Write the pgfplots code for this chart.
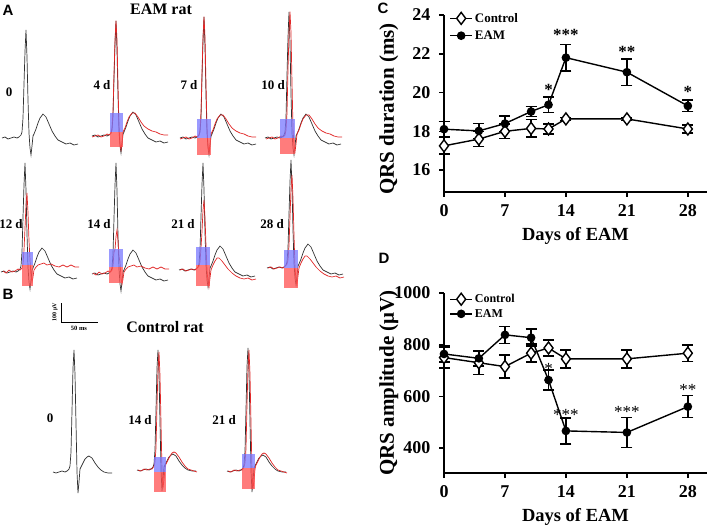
\documentclass[border=0pt]{standalone}
\usepackage{fontspec}
\setmainfont{Liberation Serif}
\newfontfamily\arialbf[BoldFont={Liberation Sans Bold}]{Liberation Sans}
\usepackage{pgfplots}
\pgfplotsset{compat=1.18}
\usepackage{pgfplotstable}

\definecolor{ecgblack}{RGB}{50,50,50}
\definecolor{ecgred}{RGB}{225,40,40}
\definecolor{boxblue}{RGB}{120,120,255}
\definecolor{boxred}{RGB}{255,80,80}

% ---------- QRS duration (ms) ----------
\pgfplotstableread{
x y e
0 17.25 0.42
4 17.60 0.38
7 18.00 0.38
10 18.15 0.45
12 18.12 0.25
14 18.64 0.08
21 18.64 0.08
28 18.12 0.20
}\cCtrl
\pgfplotstableread{
x y e
0 18.11 0.39
4 18.02 0.39
7 18.40 0.40
10 19.02 0.26
12 19.37 0.41
14 21.80 0.69
21 21.05 0.69
28 19.31 0.30
}\cEAM
% ---------- QRS amplitude (uV) ----------
\pgfplotstableread{
x y e
0 750 40
4 730 45
7 715 45
10 767 35
12 787 31
14 745 35
21 745 35
28 767 32
}\dCtrl
\pgfplotstableread{
x y e
0 764 32
4 747 30
7 838 33
10 827 33
12 663 38
14 466 50
21 460 58
28 560 43
}\dEAM

% ---------- ECG trace shapes (dx, dy in px; peak = -100) ----------
\pgfplotstableread{
x y
-24 0
-21 -1
-18 1
-15 0
-12 -1
-9 0
-7 -1
-5 -3
-4 -6
-3 -20
-2 -50
-1 -80
0 -100
1 -75
2 -35
3 -5
4 10
5 17
6 8
7 -2
8 -4
10 -9
12 -15
14 -20
17 -24
20 -21
23 -14
26 -7
29 -2
32 2
36 4
40 6
44 5
48 7
52 6
}\blackA
\pgfplotstableread{
x y
-24 1
-21 0
-18 -1
-15 1
-12 0
-9 -2
-7 -1
-5 -3
-4 -8
-3 -25
-2 -55
-1 -85
0 -102
1 -85
2 -45
3 -10
4 8
5 14
6 6
7 -4
9 -8
11 -14
13 -19
16 -23
19 -23
22 -19
25 -14
28 -10
32 -7
36 -5
40 -4
44 -2
48 -1
52 -1
}\redA
\pgfplotstableread{
x y
-24 -1
-21 1
-18 -2
-15 0
-12 -1
-9 -3
-7 -2
-5 -4
-4 -8
-3 -22
-2 -55
-1 -85
0 -100
1 -75
2 -40
3 -12
4 4
5 10
6 5
7 -2
9 -5
11 -7
14 -8
17 -9
20 -7
24 -8
28 -6
32 -5
36 -7
40 -5
44 -7
48 -5
52 -5
}\redC
\pgfplotstableread{
x y
-24 0
-21 -1
-18 1
-15 0
-12 -1
-9 0
-7 -2
-5 -4
-4 -8
-3 -22
-2 -55
-1 -85
0 -100
1 -75
2 -35
3 0
4 12
5 17
6 8
7 0
9 -5
11 -9
13 -12
15 -12
18 -9
21 -5
24 -1
28 3
32 6
36 8
40 9
44 8
48 10
52 9
}\redD
\pgfplotstableread{
x y
-21 0
-18 1
-15 0
-12 -1
-9 0
-7 -1
-5 -3
-4 -6
-3 -20
-2 -50
-1 -85
0 -100
1 -80
2 -40
3 0
4 21
5 10
6 -3
7 -5
9 -9
11 -13
13 -15
15 -16
18 -14
21 -9
24 -5
27 -2
30 0
34 1
38 1
}\blackB
\pgfplotstableread{
x y
-21 0
-18 1
-15 -1
-12 0
-9 -1
-7 -1
-5 -4
-4 -8
-3 -22
-2 -55
-1 -85
0 -100
1 -80
2 -40
3 0
4 18
5 10
6 -2
7 -6
9 -10
11 -14
13 -17
15 -18
17 -17
20 -13
23 -8
26 -4
29 -1
32 0
35 1
38 2
}\redB

% #1 table, #2 colour, #3 peak x, #4 baseline y, #5 peak factor
\newcommand{\ecg}[5]{%
  \addplot[#2, line width=0.7pt, no marks] table[x expr={\thisrow{x}+#3},
    y expr={(\thisrow{y} < -30 ? \thisrow{y}*#5 : \thisrow{y}) + #4}] {#1};}
% #1 x1, #2 x2, #3 y1, #4 y2 (blue), #5 y2 (red)
\newcommand{\boxes}[5]{%
  \addplot[draw=none, fill=boxblue, fill opacity=0.75] coordinates {(#1,#3) (#2,#3) (#2,#4) (#1,#4)};
  \addplot[draw=none, fill=boxred, fill opacity=0.75] coordinates {(#1,#4) (#2,#4) (#2,#5) (#1,#5)};}
\newcommand{\lab}{\fontsize{13}{14}\selectfont\bfseries}
\newcommand{\panel}{\fontsize{15}{16}\selectfont\arialbf\bfseries}

\begin{document}
\begin{tikzpicture}
\path[use as bounding box] (0pt,0pt) rectangle (709pt,-529pt);

% ================= panels A and B =================
\begin{axis}[at={(0pt,0pt)}, anchor=north west, scale only axis,
  width=380pt, height=529pt, xmin=0, xmax=380, ymin=0, ymax=529,
  y dir=reverse, hide axis, clip=false]
% row 1
\ecg{\blackA}{ecgblack}{26}{138}{1.08}
\ecg{\blackA}{ecgblack}{116}{136}{1.15}
\ecg{\redA}{ecgred}{116}{136}{1.13}
\ecg{\blackA}{ecgblack}{204}{138}{1.21}
\ecg{\redA}{ecgred}{204}{138}{1.19}
\ecg{\blackA}{ecgblack}{289}{138}{1.26}
\ecg{\redA}{ecgred}{290}{138}{1.24}
\boxes{110}{123}{113}{132}{147}
\boxes{197}{211}{119}{138}{155}
\boxes{280}{295}{119}{138}{154}
% row 2
\ecg{\blackA}{ecgblack}{25}{272}{1.09}
\ecg{\redC}{ecgred}{27}{272}{0.79}
\ecg{\blackA}{ecgblack}{116}{274}{1.11}
\ecg{\redC}{ecgred}{117}{274}{0.44}
\ecg{\blackA}{ecgblack}{203}{270}{1.07}
\ecg{\redD}{ecgred}{204}{270}{0.70}
\ecg{\blackA}{ecgblack}{291}{268}{1.08}
\ecg{\redD}{ecgred}{292}{268}{0.93}
\boxes{22}{33}{252}{265}{286}
\boxes{109}{123}{249}{267}{283}
\boxes{196}{210}{247}{265}{286}
\boxes{284}{298}{250}{268}{288}
% panel B
\ecg{\blackB}{ecgblack}{74}{472}{1.22}
\ecg{\blackB}{ecgblack}{158}{470}{1.20}
\ecg{\redB}{ecgred}{159}{470}{1.18}
\ecg{\blackB}{ecgblack}{248}{471}{1.23}
\ecg{\redB}{ecgred}{249}{471}{1.21}
\boxes{154}{166}{457}{472}{492}
\boxes{242}{255}{454}{468}{489}
% scale bar
\addplot[black, line width=0.8pt, no marks] coordinates {(61,303) (61,322) (98,322)};
\node[rotate=90, font=\fontsize{6}{7}\selectfont\bfseries] at (axis cs:55,312) {100 μV};
\node[font=\fontsize{6.5}{7}\selectfont\bfseries] at (axis cs:79,328) {50 ms};
% labels
\node[font=\panel] at (axis cs:8,10) {A};
\node[font=\panel] at (axis cs:8,294) {B};
\node[font=\fontsize{16}{18}\selectfont\bfseries] at (axis cs:161,9) {EAM rat};
\node[font=\fontsize{16}{18}\selectfont\bfseries] at (axis cs:165,327) {Control rat};
\node[font=\lab] at (axis cs:9,92) {0};
\node[font=\lab] at (axis cs:102,85) {4 d};
\node[font=\lab] at (axis cs:189,85) {7 d};
\node[font=\lab] at (axis cs:273,85) {10 d};
\node[font=\lab] at (axis cs:11,224) {12 d};
\node[font=\lab] at (axis cs:99,224) {14 d};
\node[font=\lab] at (axis cs:183,224) {21 d};
\node[font=\lab] at (axis cs:272,224) {28 d};
\node[font=\lab] at (axis cs:50,418) {0};
\node[font=\lab] at (axis cs:140,420) {14 d};
\node[font=\lab] at (axis cs:224,420) {21 d};
\node[font=\panel] at (axis cs:383,8) {C};
\node[font=\panel] at (axis cs:384,258) {D};
\end{axis}

\pgfplotsset{
  linechart/.style={
    scale only axis, width=263pt, xmin=0, xmax=30.2,
    axis x line*=bottom, axis y line*=left,
    axis line style={line width=1.6pt},
    xtick={0,7,14,21,28},
    tick align=outside, major tick length=5pt,
    tick style={line width=1.6pt, black},
    ticklabel style={font=\fontsize{18}{20}\selectfont\bfseries},
    xticklabel style={yshift=-4pt},
    yticklabel style={xshift=-5pt},
    /pgf/number format/assume math mode=true,
    /pgf/number format/1000 sep={},
    xlabel={Days of EAM},
    xlabel style={font=\fontsize{18.5}{20}\selectfont\bfseries, anchor=center},
    ylabel style={font=\fontsize{21}{23}\selectfont\bfseries, anchor=center,
      at={(axis description cs:-0.21,0.5)}},
    clip=false,
    legend cell align=left,
    legend image code/.code={\draw[mark repeat=2,mark phase=2,##1]
      plot coordinates {(0pt,0pt) (11pt,0pt) (22pt,0pt)};},
  },
  ctrl/.style={black, line width=1.4pt, mark=diamond*, mark size=6pt,
    mark options={fill=white, solid, line width=1.4pt},
    error bars/.cd, y dir=both, y explicit,
    error bar style={line width=1.5pt},
    error mark options={rotate=90, mark size=5.5pt, line width=1.5pt}},
  eam/.style={black, line width=1.4pt, mark=*, mark size=3.6pt,
    mark options={fill=black, solid},
    error bars/.cd, y dir=both, y explicit,
    error bar style={line width=1.5pt},
    error mark options={rotate=90, mark size=5.5pt, line width=1.5pt}},
}

% ================= panel C =================
\begin{axis}[linechart, at={(444pt,-192pt)}, anchor=south west,
  height=177pt, ymin=14.87, ymax=24, ytick={16,18,20,22,24},
  ylabel={QRS duration (ms)},
  ylabel style={at={(axis description cs:-0.21,0.47)}},
  xlabel style={at={(axis description cs:0.5,-0.249)}},
  legend style={draw=none, fill=none, inner sep=0pt, row sep=3pt,
    at={(axis description cs:0.02,1.023)}, anchor=north west,
    font=\fontsize{13}{14}\selectfont\bfseries}]
\addplot[ctrl] table[x=x, y=y, y error=e] {\cCtrl};
\addlegendentry{Control}
\addplot[eam] table[x=x, y=y, y error=e] {\cEAM};
\addlegendentry{EAM}
\node[font=\fontsize{17}{18}\selectfont\bfseries] at (axis cs:12,20.14) {*};
\node[font=\fontsize{17}{18}\selectfont\bfseries] at (axis cs:14,22.97) {***};
\node[font=\fontsize{17}{18}\selectfont\bfseries] at (axis cs:21,22.1) {**};
\node[font=\fontsize{17}{18}\selectfont\bfseries] at (axis cs:28,20.03) {*};
\end{axis}

% ================= panel D =================
\begin{axis}[linechart, at={(444pt,-473pt)}, anchor=south west,
  height=180pt, ymin=303, ymax=1000, ytick={400,600,800,1000},
  ylabel={QRS amplitude (μV)},
  xlabel style={at={(axis description cs:0.5,-0.244)}},
  legend style={draw=none, fill=none, inner sep=0pt, row sep=1pt,
    at={(axis description cs:0.02,1.005)}, anchor=north west,
    font=\fontsize{12}{13}\selectfont\bfseries}]
\addplot[ctrl] table[x=x, y=y, y error=e] {\dCtrl};
\addlegendentry{Control}
\addplot[eam] table[x=x, y=y, y error=e] {\dEAM};
\addlegendentry{EAM}
\node[font=\fontsize{17}{18}\selectfont] at (axis cs:12,705) {*};
\node[font=\fontsize{17}{18}\selectfont] at (axis cs:14,527) {***};
\node[font=\fontsize{17}{18}\selectfont] at (axis cs:21,541) {***};
\node[font=\fontsize{17}{18}\selectfont] at (axis cs:28,626) {**};
\end{axis}
\end{tikzpicture}
\end{document}
